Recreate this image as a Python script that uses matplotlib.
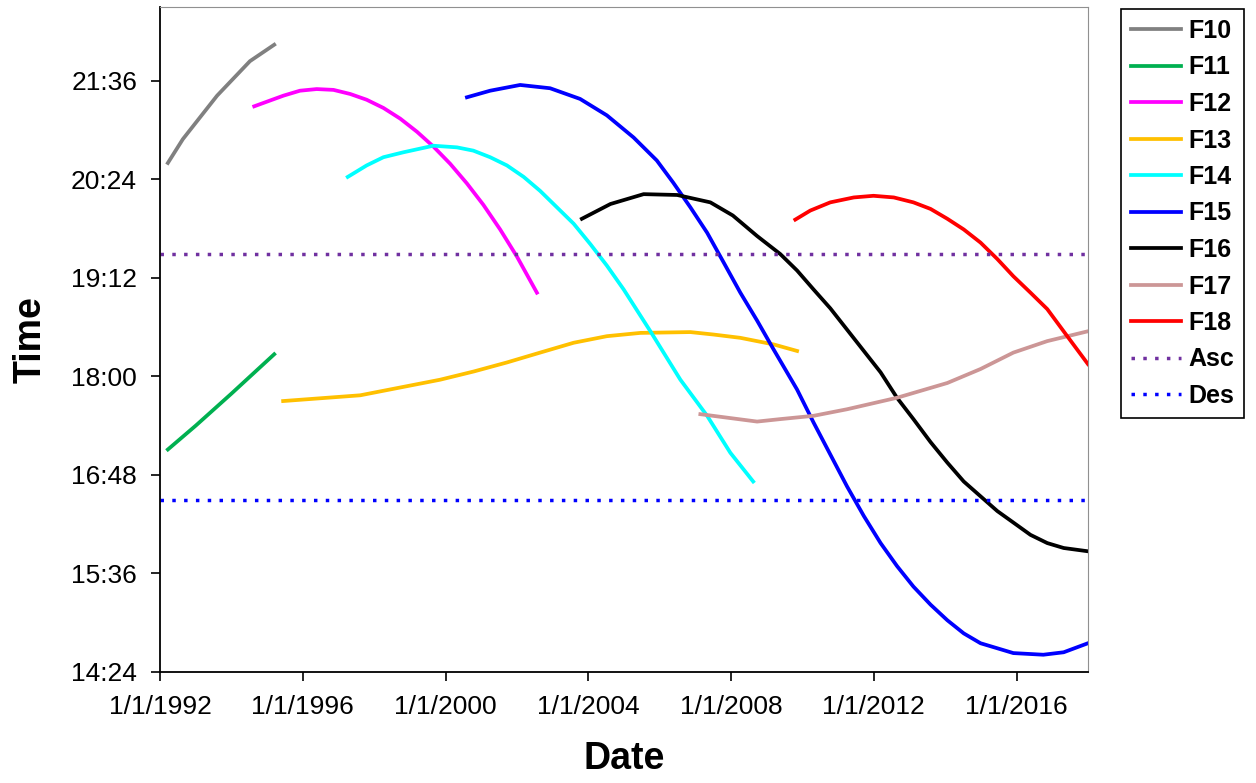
import matplotlib
matplotlib.use("Agg")
import matplotlib.pyplot as plt
from matplotlib.ticker import FixedLocator, FuncFormatter

plt.rcParams['font.family'] = ['Liberation Sans', 'DejaVu Sans']

# satellite local crossing times (decimal year, decimal hours)
f10_x = [1992.22, 1992.64, 1993.60, 1994.52, 1995.20]
f10_y = [20.60, 20.89, 21.42, 21.84, 22.04]

f11_x = [1992.22, 1993.0, 1994.0, 1995.2]
f11_y = [17.11, 17.40, 17.79, 18.27]

f12_x = [1994.64, 1995.08, 1995.46, 1995.92, 1996.39, 1996.86, 1997.33, 1997.79, 1998.26, 1998.73,
         1999.20, 1999.66, 2000.13, 2000.60, 2001.06, 2001.53, 2002.00, 2002.56]
f12_y = [21.29, 21.36, 21.42, 21.48, 21.50, 21.49, 21.44, 21.37, 21.27, 21.14,
         20.98, 20.80, 20.59, 20.35, 20.09, 19.79, 19.46, 19.02]

f13_x = [1995.45, 1997.61, 1999.85, 2000.79, 2001.72, 2002.65, 2003.59, 2004.52, 2005.46, 2006.86,
         2007.51, 2008.26, 2009.19, 2009.85]
f13_y = [17.70, 17.77, 17.96, 18.06, 18.17, 18.29, 18.41, 18.49, 18.53, 18.54,
         18.51, 18.47, 18.39, 18.31]

f14_x = [1997.26, 1997.79, 1998.26, 1998.82, 1999.66, 2000.32, 2000.78, 2001.25, 2001.72, 2002.19,
         2002.65, 2003.12, 2003.59, 2004.06, 2004.52, 2004.99, 2005.74, 2006.58, 2007.33, 2007.98,
         2008.62]
f14_y = [20.43, 20.57, 20.67, 20.73, 20.81, 20.79, 20.75, 20.67, 20.57, 20.43,
         20.26, 20.06, 19.86, 19.61, 19.35, 19.06, 18.55, 17.96, 17.52, 17.07,
         16.72]

f15_x = [2000.60, 2001.25, 2002.09, 2002.93, 2003.77, 2004.52, 2005.27, 2005.92, 2006.38, 2006.86,
         2007.33, 2007.79, 2008.26, 2008.73, 2009.19, 2009.85, 2010.31, 2010.78, 2011.25, 2011.72,
         2012.19, 2012.65, 2013.11, 2013.59, 2014.06, 2014.52, 2014.99, 2015.91, 2016.75, 2017.32,
         2018.0]
f15_y = [21.40, 21.48, 21.55, 21.51, 21.38, 21.18, 20.91, 20.63, 20.36, 20.06,
         19.75, 19.39, 19.02, 18.68, 18.33, 17.84, 17.44, 17.05, 16.66, 16.30,
         15.97, 15.69, 15.44, 15.22, 15.03, 14.87, 14.75, 14.63, 14.61, 14.64,
         14.75]

f16_x = [2003.82, 2004.62, 2005.55, 2006.49, 2007.42, 2008.05, 2008.73, 2009.38, 2009.85, 2010.31,
         2010.78, 2011.25, 2011.72, 2012.19, 2012.65, 2013.11, 2013.59, 2014.06, 2014.52, 2014.99,
         2015.46, 2015.91, 2016.39, 2016.86, 2017.32, 2018.0]
f16_y = [19.92, 20.10, 20.22, 20.21, 20.12, 19.96, 19.71, 19.49, 19.29, 19.06,
         18.83, 18.57, 18.31, 18.05, 17.74, 17.48, 17.20, 16.95, 16.72, 16.54,
         16.36, 16.22, 16.07, 15.97, 15.91, 15.87]

f17_x = [2007.14, 2008.73, 2009.38, 2010.31, 2011.25, 2012.65, 2014.06, 2014.99, 2015.91, 2016.86, 2018.0]
f17_y = [17.54, 17.45, 17.48, 17.52, 17.60, 17.74, 17.92, 18.09, 18.29, 18.43, 18.55]

f18_x = [2009.80, 2010.22, 2010.78, 2011.44, 2011.99, 2012.56, 2013.11, 2013.59, 2014.06, 2014.52,
         2014.99, 2015.46, 2015.91, 2016.39, 2016.86, 2017.42, 2018.0]
f18_y = [19.91, 20.02, 20.12, 20.18, 20.20, 20.18, 20.12, 20.04, 19.92, 19.79,
         19.63, 19.43, 19.22, 19.02, 18.82, 18.49, 18.15]

asc_time = 19.49
des_time = 16.50
x_range = [1992, 2018]

x_ticks = [1992, 1996, 2000, 2004, 2008, 2012, 2016]
y_ticks = [14.4, 15.6, 16.8, 18.0, 19.2, 20.4, 21.6]

fig = plt.figure(figsize=(12.56, 7.83), dpi=100)
ax = fig.add_axes([0.1274, 0.1418, 0.7388, 0.8493])

lw = 2.7
ax.plot(f10_x, f10_y, color='#808080', lw=lw, label='F10')
ax.plot(f11_x, f11_y, color='#00B050', lw=lw, label='F11')
ax.plot(f12_x, f12_y, color='#FF00FF', lw=lw, label='F12')
ax.plot(f13_x, f13_y, color='#FFC000', lw=lw, label='F13')
ax.plot(f14_x, f14_y, color='#00FFFF', lw=lw, label='F14')
ax.plot(f15_x, f15_y, color='#0000FF', lw=lw, label='F15')
ax.plot(f16_x, f16_y, color='#000000', lw=lw, label='F16')
ax.plot(f17_x, f17_y, color='#CC9696', lw=lw, label='F17')
ax.plot(f18_x, f18_y, color='#FF0000', lw=lw, label='F18')
ax.plot(x_range, [asc_time, asc_time], color='#7030A0', lw=2.5, ls=(0, (1, 2.4)), label='Asc')
ax.plot(x_range, [des_time, des_time], color='#0000FF', lw=2.5, ls=(0, (1, 2.4)), label='Des')

ax.set_xlim(1992, 2018)
ax.set_ylim(14.4, 22.5)
ax.xaxis.set_major_locator(FixedLocator(x_ticks))
ax.xaxis.set_major_formatter(FuncFormatter(lambda v, p: "1/1/%d" % round(v)))
ax.yaxis.set_major_locator(FixedLocator(y_ticks))


def hhmm(v, p):
    m = int(round(v * 60))
    return "%d:%02d" % (m // 60, m % 60)


ax.yaxis.set_major_formatter(FuncFormatter(hhmm))
ax.tick_params(direction='out', length=6.5, width=1.2, labelsize=19, pad=10)

for s in ['top', 'right']:
    ax.spines[s].set_color('#909090')
for s in ['left', 'bottom']:
    ax.spines[s].set_color('black')
    ax.spines[s].set_linewidth(1.3)

ax.set_xlabel('Date', fontsize=27, fontweight='bold', labelpad=16)
ax.set_ylabel('Time', fontsize=27, fontweight='bold', labelpad=16)

leg = fig.legend(loc='upper left', bbox_to_anchor=(1121 / 1256, 1 - 9 / 783),
                 prop={'size': 18, 'weight': 'bold'}, fancybox=False,
                 edgecolor='black', framealpha=1, handlelength=2.0,
                 labelspacing=0.5, handletextpad=0.3, borderpad=0.4,
                 borderaxespad=0)
leg.get_frame().set_linewidth(1.2)

fig.savefig('out.png', dpi=100)
